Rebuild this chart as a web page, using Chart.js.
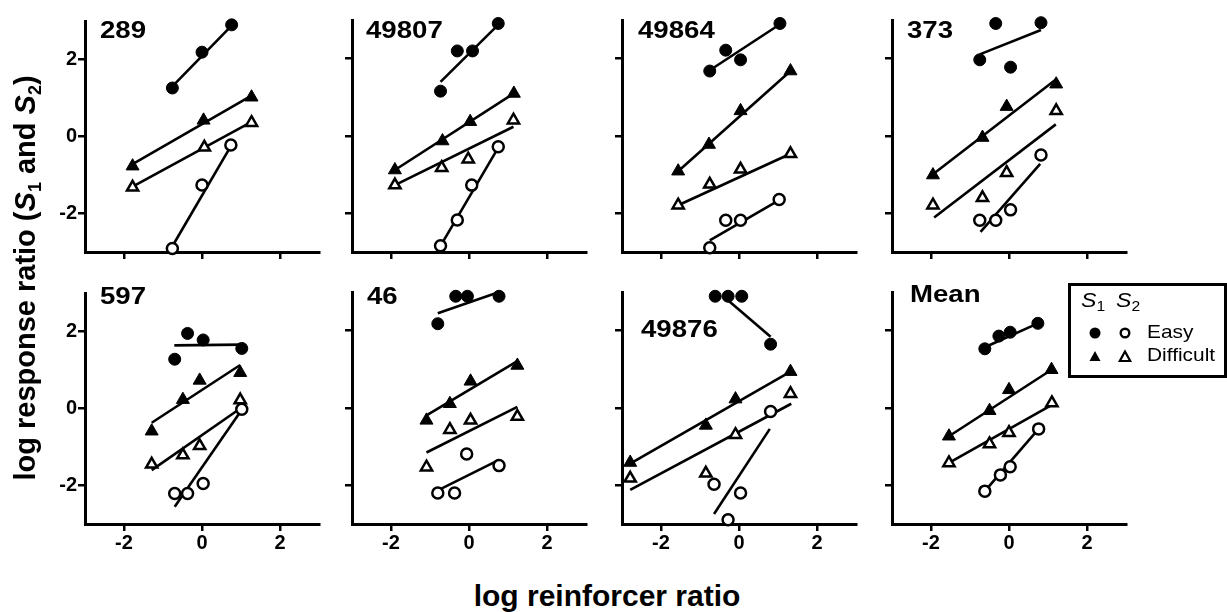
<!DOCTYPE html>
<html>
<head>
<meta charset="utf-8">
<script src="https://cdn.jsdelivr.net/npm/chart.js@4.4.1/dist/chart.umd.min.js"></script>
<style>
  html, body { margin:0; padding:0; background:#fff; }
  body { width:1227px; height:612px; position:relative; overflow:hidden; font-family:'Liberation Sans', Arial, Helvetica, sans-serif; color:#000; }
  canvas { position:absolute; }
  .ptitle { position:absolute; font-weight:bold; font-size:24px; line-height:24px; white-space:nowrap; transform:scaleX(1.15); transform-origin:left top; }
  .axtitle { position:absolute; font-weight:bold; white-space:nowrap; text-align:center; }
  .sub { font-size:0.62em; position:relative; top:0.32em; }
  .leg { position:absolute; font-size:19px; line-height:19px; white-space:nowrap; transform:scaleX(1.1); transform-origin:left top; }
  .legS { position:absolute; font-size:21px; line-height:21px; white-space:nowrap; transform:scaleX(1.1); transform-origin:left top; }
  .legS .sub { font-size:0.68em; top:0.3em; }
</style>
</head>
<body>
<script>
// ---------- data ----------
const panelNames = ['289', '49807', '49864', '373', '597', '46', '49876', 'Mean'];
const xTickValues = [-2, 0, 2];
const yTickValues = [-2, 0, 2];

// S1, easy (filled circles)
const s1Easy = [
  [[-0.76, 1.26], [0.00, 2.19], [0.76, 2.90]],
  [[-0.73, 1.16], [-0.30, 2.20], [0.09, 2.20], [0.75, 2.91]],
  [[-0.75, 1.68], [-0.34, 2.22], [0.04, 1.97], [1.05, 2.91]],
  [[-0.75, 1.97], [-0.34, 2.91], [0.04, 1.78], [0.82, 2.93]],
  [[-0.70, 1.28], [-0.37, 1.95], [0.03, 1.78], [1.02, 1.56]],
  [[-0.80, 2.18], [-0.34, 2.89], [-0.04, 2.89], [0.77, 2.89]],
  [[-0.61, 2.89], [-0.28, 2.89], [0.07, 2.89], [0.81, 1.65]],
  [[-0.62, 1.53], [-0.26, 1.86], [0.03, 1.96], [0.74, 2.19]]
];
// S1, difficult (filled triangles)
const s1Difficult = [
  [[-1.78, -0.77], [0.04, 0.42], [1.27, 1.02]],
  [[-1.90, -0.88], [-0.68, -0.13], [0.03, 0.37], [1.15, 1.10]],
  [[-1.56, -0.91], [-0.77, -0.22], [0.04, 0.65], [1.32, 1.68]],
  [[-1.95, -1.01], [-0.68, -0.04], [-0.06, 0.76], [1.21, 1.34]],
  [[-1.29, -0.59], [-0.49, 0.23], [-0.06, 0.73], [0.98, 0.93]],
  [[-1.09, -0.32], [-0.49, 0.11], [0.04, 0.69], [1.24, 1.10]],
  [[-2.79, -1.41], [-0.85, -0.45], [-0.09, 0.23], [1.32, 0.94]],
  [[-1.54, -0.73], [-0.50, -0.07], [0.00, 0.47], [1.09, 0.99]]
];
// S2, difficult (open triangles)
const s2Difficult = [
  [[-1.78, -1.32], [0.06, -0.28], [1.27, 0.36]],
  [[-1.90, -1.27], [-0.70, -0.82], [-0.02, -0.60], [1.14, 0.41]],
  [[-1.56, -1.79], [-0.75, -1.25], [0.04, -0.86], [1.32, -0.46]],
  [[-1.95, -1.79], [-0.68, -1.60], [-0.06, -0.95], [1.21, 0.65]],
  [[-1.29, -1.45], [-0.49, -1.21], [-0.06, -0.97], [0.98, 0.22]],
  [[-1.09, -1.53], [-0.49, -0.56], [0.04, -0.32], [1.24, -0.22]],
  [[-2.79, -1.82], [-0.85, -1.69], [-0.09, -0.69], [1.32, 0.37]],
  [[-1.54, -1.42], [-0.50, -0.93], [0.00, -0.64], [1.10, 0.13]]
];
// S2, easy (open circles)
const s2Easy = [
  [[-0.76, -2.91], [0.00, -1.26], [0.74, -0.22]],
  [[-0.73, -2.84], [-0.30, -2.17], [0.07, -1.27], [0.75, -0.28]],
  [[-0.75, -2.89], [-0.34, -2.18], [0.04, -2.18], [1.03, -1.64]],
  [[-0.75, -2.18], [-0.34, -2.18], [0.04, -1.91], [0.82, -0.49]],
  [[-0.70, -2.21], [-0.37, -2.21], [0.03, -1.95], [1.02, -0.02]],
  [[-0.80, -2.20], [-0.37, -2.20], [-0.06, -1.19], [0.77, -1.49]],
  [[-0.64, -1.97], [-0.28, -2.89], [0.04, -2.20], [0.81, -0.09]],
  [[-0.62, -2.15], [-0.22, -1.73], [0.03, -1.52], [0.76, -0.54]]
];

// fitted lines: [x1, y1, x2, y2]
const s1EasyFit = [
  [-0.76, 1.30, 0.76, 2.88], [-0.73, 1.40, 0.72, 2.85], [-0.75, 1.70, 1.05, 2.89], [-0.75, 2.11, 0.82, 2.74],
  [-0.71, 1.64, 1.02, 1.66], [-0.80, 2.45, 0.72, 2.98], [-0.38, 2.87, 0.81, 1.84], [-0.62, 1.57, 0.74, 2.19]
];
const s1DifficultFit = [
  [-1.78, -0.72, 1.27, 1.06], [-1.90, -0.88, 1.15, 1.10], [-1.56, -0.91, 1.32, 1.68], [-1.95, -0.99, 1.21, 1.47],
  [-1.29, -0.37, 0.98, 1.13], [-1.09, -0.19, 1.24, 1.21], [-2.79, -1.44, 1.32, 0.94], [-1.54, -0.73, 1.09, 0.99]
];
const s2DifficultFit = [
  [-1.78, -1.30, 1.27, 0.38], [-1.90, -1.27, 1.14, 0.24], [-1.56, -1.79, 1.32, -0.46], [-1.92, -2.11, 1.20, 0.30],
  [-1.29, -1.60, 0.98, 0.00], [-1.09, -1.15, 1.24, 0.03], [-2.79, -2.12, 1.34, 0.11], [-1.54, -1.42, 1.10, 0.08]
];
const s2EasyFit = [
  [-0.76, -2.85, 0.74, -0.25], [-0.73, -2.84, 0.75, -0.30], [-0.75, -2.70, 1.03, -1.66], [-0.73, -2.48, 0.80, -0.72],
  [-0.70, -2.55, 0.98, -0.09], [-0.76, -2.11, 0.77, -1.34], [-0.64, -2.74, 0.79, -0.54], [-0.62, -2.15, 0.76, -0.54]
];

// ---------- layout ----------
const axisX = [85, 352, 622, 892];      // page x of each column's y-axis line
const axisTop = [20, 292];              // page y of each row's plot top
const AXW = 45, AXH = 45, PADT = 12, PADR = 12;
const PLOTW = 234, PLOTH = 232;
const CW = AXW + PLOTW + PADR, CH = PADT + PLOTH + AXH;

const toPts = arr => arr.map(p => ({ x: p[0], y: p[1] }));
const fitPts = f => [{ x: f[0], y: f[1] }, { x: f[2], y: f[3] }];

function pointSet(data, style, filled, radius) {
  return {
    data: toPts(data), showLine: false, order: 0, clip: false,
    pointStyle: style, pointRadius: radius, pointHoverRadius: radius,
    pointBackgroundColor: filled ? '#000' : '#fff', pointBorderColor: '#000',
    pointBorderWidth: filled ? 1 : 2.5
  };
}
function lineSet(f) {
  return {
    data: fitPts(f), showLine: true, order: 1, clip: false, pointRadius: 0,
    borderColor: '#000', borderWidth: 2.6, fill: false
  };
}

function makePanel(i) {
  const col = i % 4, row = Math.floor(i / 4);
  const cv = document.createElement('canvas');
  cv.width = CW; cv.height = CH;
  cv.style.left = (axisX[col] - AXW) + 'px';
  cv.style.top = (axisTop[row] - PADT) + 'px';
  document.body.appendChild(cv);

  const gridOpt = { display: true, drawOnChartArea: false, drawTicks: true, tickLength: 7, lineWidth: 2.5, color: '#000' };
  const borderOpt = { display: true, width: 3, color: '#000' };

  new Chart(cv, {
    type: 'scatter',
    data: {
      datasets: [
        pointSet(s1Easy[i], 'circle', true, 6),
        pointSet(s2Easy[i], 'circle', false, 5.5),
        pointSet(s1Difficult[i], 'triangle', true, 7.5),
        pointSet(s2Difficult[i], 'triangle', false, 6.5),
        lineSet(s1EasyFit[i]),
        lineSet(s2EasyFit[i]),
        lineSet(s1DifficultFit[i]),
        lineSet(s2DifficultFit[i])
      ]
    },
    options: {
      responsive: false, animation: false,
      layout: { padding: { top: PADT, right: PADR, left: 0, bottom: 0 } },
      plugins: { legend: { display: false }, tooltip: { enabled: false }, title: { display: false } },
      events: [],
      scales: {
        x: {
          type: 'linear', min: -3, max: 3,
          afterBuildTicks: a => { a.ticks = xTickValues.map(v => ({ value: v })); },
          afterFit: s => { s.height = AXH; },
          grid: gridOpt, border: borderOpt,
          ticks: { display: row === 1, color: '#000', font: { size: 20, weight: 'bold' }, padding: 0, maxRotation: 0, autoSkip: false }
        },
        y: {
          type: 'linear', min: -3, max: 3,
          afterBuildTicks: a => { a.ticks = yTickValues.map(v => ({ value: v })); },
          afterFit: s => { s.width = AXW; },
          grid: gridOpt, border: borderOpt,
          ticks: { display: col === 0, color: '#000', font: { size: 20, weight: 'bold' }, padding: 1, autoSkip: false }
        }
      }
    }
  });
}

for (let i = 0; i < panelNames.length; i++) makePanel(i);

// panel titles
const titlePos = [[100, 18], [366, 18], [638, 18], [907, 18], [100, 284], [367, 284], [641, 317], [910, 282]];
panelNames.forEach((name, i) => {
  const d = document.createElement('div');
  d.className = 'ptitle';
  d.textContent = name;
  d.style.left = titlePos[i][0] + 'px';
  d.style.top = titlePos[i][1] + 'px';
  document.body.appendChild(d);
});
</script>

<!-- axis titles -->
<div class="axtitle" style="left:357px; top:581px; width:500px; font-size:30px; line-height:30px;">log reinforcer ratio</div>
<div class="axtitle" style="left:-225px; top:263px; width:500px; height:30px; font-size:29px; line-height:30px; transform:rotate(-90deg); transform-origin:250px 15px;">log response ratio (<i>S</i><span class="sub">1</span> and <i>S</i><span class="sub">2</span>)</div>

<!-- legend -->
<div style="position:absolute; left:1068px; top:283px; width:153px; height:89px; border:3px solid #000;"></div>
<div class="legS" style="left:1081px; top:289px;"><i>S</i><span class="sub">1</span></div>
<div class="legS" style="left:1116px; top:289px;"><i>S</i><span class="sub">2</span></div>
<div class="leg" style="left:1147px; top:322px;">Easy</div>
<div class="leg" style="left:1147px; top:345px;">Difficult</div>
<svg style="position:absolute; left:0; top:0;" width="1227" height="612">
  <circle cx="1095" cy="333" r="5.5" fill="#000"/>
  <circle cx="1125" cy="333" r="4.3" fill="#fff" stroke="#000" stroke-width="2.4"/>
  <polygon points="1095,351 1100.5,361 1089.5,361" fill="#000"/>
  <polygon points="1125,351.5 1130.2,361 1119.8,361" fill="#fff" stroke="#000" stroke-width="2.2" stroke-linejoin="miter"/>
</svg>
</body>
</html>
